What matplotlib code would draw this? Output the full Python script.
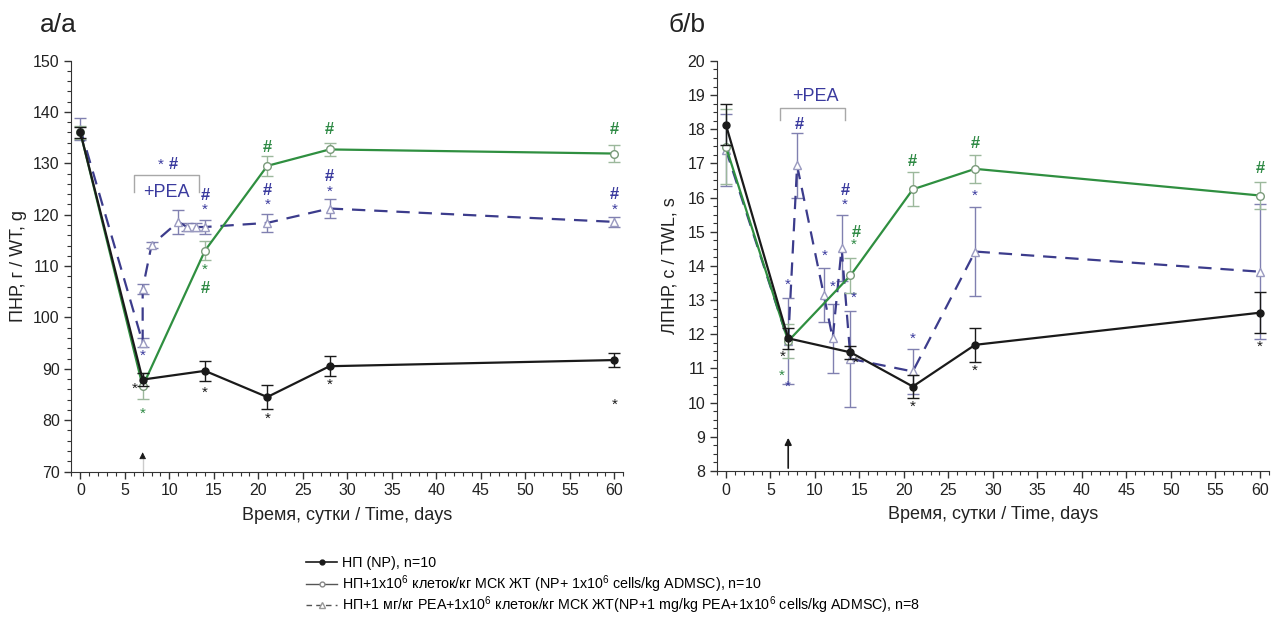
import matplotlib
matplotlib.use("Agg")
import matplotlib.pyplot as plt
from matplotlib.ticker import MultipleLocator
from matplotlib.lines import Line2D

plt.rcParams['font.family'] = ['Liberation Sans', 'DejaVu Sans']
plt.rcParams['mathtext.fontset'] = 'custom'
plt.rcParams['mathtext.rm'] = 'Liberation Sans'

# --- данные / data ---
days = [0, 7, 14, 21, 28, 60]

# a: ПНР / WT, g
wt_np = [136.0, 87.9, 89.6, 84.5, 90.5, 91.7]
wt_np_err = [1.0, 1.2, 1.9, 2.3, 1.9, 1.3]
wt_msc = [136.0, 86.6, 113.0, 129.5, 132.7, 131.9]
wt_msc_err = [1.2, 2.5, 1.8, 1.9, 1.2, 1.6]
days_pea_wt = [0, 7, 7, 8, 11, 12, 13, 14, 21, 28, 60]
wt_pea = [136.7, 95.1, 105.6, 114.1, 118.6, 117.6, 117.6, 117.6, 118.4, 121.2, 118.6]
wt_pea_err = [2.2, 0.8, 1.0, 0.6, 2.3, 0.8, 0.8, 1.4, 1.8, 1.8, 1.0]

# b: ЛПНР / TWL, s
twl_np = [18.13, 11.88, 11.47, 10.47, 11.69, 12.63]
twl_np_err = [0.6, 0.3, 0.2, 0.35, 0.5, 0.6]
twl_msc = [17.49, 11.8, 13.72, 16.24, 16.84, 16.06]
twl_msc_err = [1.1, 0.5, 0.5, 0.5, 0.4, 0.4]
days_pea_twl = [0, 7, 8, 11, 12, 13, 14, 21, 28, 60]
twl_pea = [17.4, 11.8, 16.94, 13.15, 11.88, 14.52, 11.28, 10.91, 14.42, 13.83]
twl_pea_err = [1.05, 1.25, 0.95, 0.8, 1.0, 0.97, 1.4, 0.65, 1.29, 1.98]

# значки достоверности (день, значение, знак, группа)
marks_wt = [
    (6.1, 86.2, '*', 'np'), (7, 81.3, '*', 'msc'), (7, 92.5, '*', 'pea'),
    (14, 85.4, '*', 'np'), (21, 80.2, '*', 'np'), (28, 86.8, '*', 'np'), (60, 83.0, '*', 'np'),
    (14, 109.2, '*', 'msc'), (14, 105.6, '#', 'msc'),
    (21, 133.1, '#', 'msc'), (28, 136.5, '#', 'msc'), (60, 136.6, '#', 'msc'),
    (14, 123.8, '#', 'pea'), (14, 120.9, '*', 'pea'),
    (21, 124.7, '#', 'pea'), (21, 121.9, '*', 'pea'),
    (28, 127.4, '#', 'pea'), (28, 124.5, '*', 'pea'),
    (60, 124.0, '#', 'pea'), (60, 121.0, '*', 'pea'),
    (9.0, 129.7, '*', 'pea'), (10.4, 129.7, '#', 'pea'),
]
marks_twl = [
    (6.4, 11.33, '*', 'np'), (6.3, 10.78, '*', 'msc'), (7, 10.47, '*', 'pea'), (6.9, 13.44, '*', 'pea'),
    (8.2, 18.13, '#', 'pea'), (11.1, 14.29, '*', 'pea'), (12.0, 13.39, '*', 'pea'),
    (13.4, 16.22, '#', 'pea'), (13.4, 15.79, '*', 'pea'),
    (14.6, 14.98, '#', 'msc'), (14.4, 14.62, '*', 'msc'),
    (14.4, 13.06, '*', 'pea'), (14.6, 11.17, '*', 'np'),
    (21, 17.05, '#', 'msc'), (21, 11.88, '*', 'pea'), (21, 9.87, '*', 'np'),
    (28, 17.59, '#', 'msc'), (28, 16.05, '*', 'pea'), (28, 10.94, '*', 'np'),
    (60, 16.86, '#', 'msc'), (60, 11.64, '*', 'np'),
]

legend_labels = [
    'НП (NP), n=10',
    'НП+1x10$^6$ клеток/кг МСК ЖТ (NP+ 1x10$^6$ cells/kg ADMSC), n=10',
    'НП+1 мг/кг PEA+1x10$^6$ клеток/кг МСК ЖТ(NP+1 mg/kg PEA+1x10$^6$ cells/kg ADMSC), n=8',
]

black = '#1a1a1a'
green = '#2f8f40'
green_err = '#9cb89c'
blue = '#3c3c8c'
blue_err = '#8080b0'
mark_col = {'np': black, 'msc': '#2f8a45', 'pea': '#3a3a9e'}

fig = plt.figure(figsize=(12.74, 6.18), dpi=100)
ax1 = fig.add_axes([0.0561, 0.237, 0.4331, 0.665])
ax2 = fig.add_axes([0.5628, 0.238, 0.4331, 0.6635])


def draw(ax, np_v, np_e, msc_v, msc_e, pea_d, pea_v, pea_e):
    ax.errorbar(days, np_v, yerr=np_e, color=black, ecolor=black, elinewidth=1,
                capsize=4.5, lw=1.6, marker='o', ms=5, mfc=black, mec=black, zorder=4)
    ax.errorbar(days, msc_v, yerr=msc_e, color=green, ecolor=green_err, elinewidth=1,
                capsize=4.5, lw=1.6, marker='o', ms=5.5, mfc='white', mec='#7a9a7a', zorder=3)
    ax.errorbar(pea_d, pea_v, yerr=pea_e, color=blue, ecolor=blue_err, elinewidth=1,
                capsize=4.5, lw=1.6, ls=(0, (6, 4)), marker='^', ms=6, mfc='white',
                mec='#9a9ac0', zorder=2)


draw(ax1, wt_np, wt_np_err, wt_msc, wt_msc_err, days_pea_wt, wt_pea, wt_pea_err)
draw(ax2, twl_np, twl_np_err, twl_msc, twl_msc_err, days_pea_twl, twl_pea, twl_pea_err)

for ax, marks in ((ax1, marks_wt), (ax2, marks_twl)):
    for d, v, s, g in marks:
        fs = 11 if s == '*' else 12
        ax.text(d, v, s, color=mark_col[g], fontsize=fs, ha='center', va='center',
                fontweight='bold' if s == '#' else 'normal', zorder=6)

# скобка +PEA
ax1.plot([6, 6, 13.3, 13.3], [124.5, 127.8, 127.8, 124.5], color='#a8a8a8', lw=1)
ax1.text(9.7, 124.4, '+PEA', color='#3a3a9e', fontsize=13, ha='center', va='center')
ax2.plot([6.1, 6.1, 13.4, 13.4], [18.27, 18.63, 18.63, 18.27], color='#a8a8a8', lw=1)
ax2.text(10.0, 18.96, '+PEA', color='#3a3a9e', fontsize=13, ha='center', va='center')

# стрелки на 7 сутки
ax1.plot([7, 7], [70, 73], color='#cccccc', lw=1)
ax1.annotate('', xy=(7, 74.3), xytext=(7, 72.6), zorder=5,
             arrowprops=dict(arrowstyle='-|>', color=black, lw=0.6, mutation_scale=10))
ax2.annotate('', xy=(7, 9.05), xytext=(7, 8), zorder=5,
             arrowprops=dict(arrowstyle='-|>', color=black, lw=1.2, mutation_scale=10))

ax1.set_ylim(70, 150)
ax2.set_ylim(8, 20)
ax1.yaxis.set_major_locator(MultipleLocator(10))
ax1.yaxis.set_minor_locator(MultipleLocator(2))
ax2.yaxis.set_major_locator(MultipleLocator(1))
ax2.yaxis.set_minor_locator(MultipleLocator(0.25))

for ax in (ax1, ax2):
    ax.set_xlim(-1, 61)
    ax.xaxis.set_major_locator(MultipleLocator(5))
    ax.xaxis.set_minor_locator(MultipleLocator(1))
    ax.spines['top'].set_visible(False)
    ax.spines['right'].set_visible(False)
    ax.spines['left'].set_color('#333333')
    ax.spines['bottom'].set_color('#333333')
    ax.tick_params(which='major', direction='out', length=5, width=1, labelsize=11.5, colors='#333333')
    ax.tick_params(which='minor', direction='out', length=3, width=0.8, colors='#333333')
    ax.tick_params(labelcolor='#222222')
    ax.set_xlabel('Время, сутки / Time, days', fontsize=13, color='#222222', labelpad=6)

ax1.set_ylabel('ПНР, г / WT, g', fontsize=13, color='#222222', labelpad=4)
ax2.set_ylabel('ЛПНР, с / TWL, s', fontsize=13, color='#222222', labelpad=6)

fig.text(40 / 1274, 1 - 25 / 618, 'а/a', fontsize=19, va='center', ha='left', color='#222222')
fig.text(668 / 1274, 1 - 25 / 618, 'б/b', fontsize=19, va='center', ha='left', color='#222222')

handles = [
    Line2D([], [], color=black, lw=1.2, marker='o', ms=3.5, mfc=black),
    Line2D([], [], color='#555555', lw=1.0, marker='o', ms=3.5, mfc='white', mec='#888888'),
    Line2D([], [], color='#555555', lw=1.0, ls=(0, (4, 3)), marker='^', ms=4, mfc='white', mec='#999999'),
]
# одна строка легенды на запись, чтобы шаг был ровным
for i, (h, lab) in enumerate(zip(handles, legend_labels)):
    fig.legend([h], [lab], loc='center left', bbox_to_anchor=(306 / 1274, 1 - (563 + 21 * i) / 618),
               frameon=False, handlelength=2.2, handletextpad=0.35,
               borderaxespad=0, borderpad=0,
               prop={'family': ['Liberation Sans', 'DejaVu Sans'], 'size': 10.3})

fig.savefig('out.png', dpi=100)
